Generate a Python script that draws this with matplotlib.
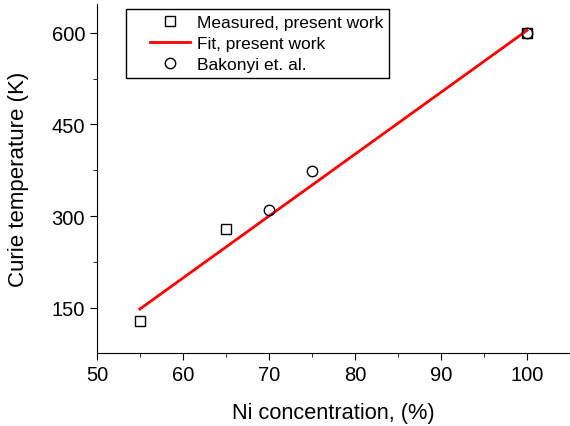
import matplotlib
matplotlib.use('Agg')
import matplotlib.pyplot as plt
from matplotlib.patches import Rectangle
from matplotlib.ticker import MultipleLocator

plt.rcParams['font.family'] = ['Liberation Sans', 'DejaVu Sans']

# measured, present work
x_meas = [55, 65, 100]
y_meas = [129, 279, 600]
# Bakonyi et. al.
x_bak = [70, 75, 100]
y_bak = [310, 374, 600]
# linear fit, present work
x_fit = [55, 100]
y_fit = [148, 604]

fig = plt.figure(figsize=(5.7, 4.27), dpi=100)
ax = fig.add_axes([0.170, 0.171, 0.830, 0.817])

ax.plot(x_meas, y_meas, 's', mfc='none', mec='k', ms=7, mew=1.0, label='Measured, present work')
ax.plot(x_fit, y_fit, '-', color='red', lw=2, label='Fit, present work')
ax.plot(x_bak, y_bak, 'o', mfc='none', mec='k', ms=7.5, mew=1.0, label='Bakonyi et. al.')

ax.set_xlim(50, 105)
ax.set_ylim(76, 647)
ax.xaxis.set_major_locator(MultipleLocator(10))
ax.xaxis.set_minor_locator(MultipleLocator(5))
ax.yaxis.set_major_locator(MultipleLocator(150))
ax.yaxis.set_minor_locator(MultipleLocator(75))

ax.spines['top'].set_visible(False)
ax.spines['right'].set_visible(False)
ax.tick_params(which='major', direction='out', length=5, labelsize=14.5)
ax.tick_params(which='minor', direction='out', length=3)

ax.set_xlabel('Ni concentration, (%)', fontsize=15.7, labelpad=13)
ax.set_ylabel('Curie temperature (K)', fontsize=16, labelpad=16)

leg = ax.legend(loc='upper left', bbox_to_anchor=(0.099, 0.986), borderaxespad=0,
                fontsize=12.5, frameon=False,
                handlelength=2.3, handletextpad=0.4, borderpad=0.35,
                labelspacing=0.33)

# origin-style box with wider left margin
fig.canvas.draw()
bb = leg.get_window_extent()
ax.add_patch(Rectangle((bb.x0 - 18, bb.y0), bb.width + 18, bb.height, transform=None,
                       fill=False, edgecolor='k', lw=1.0, zorder=5))

fig.savefig('out.png')
